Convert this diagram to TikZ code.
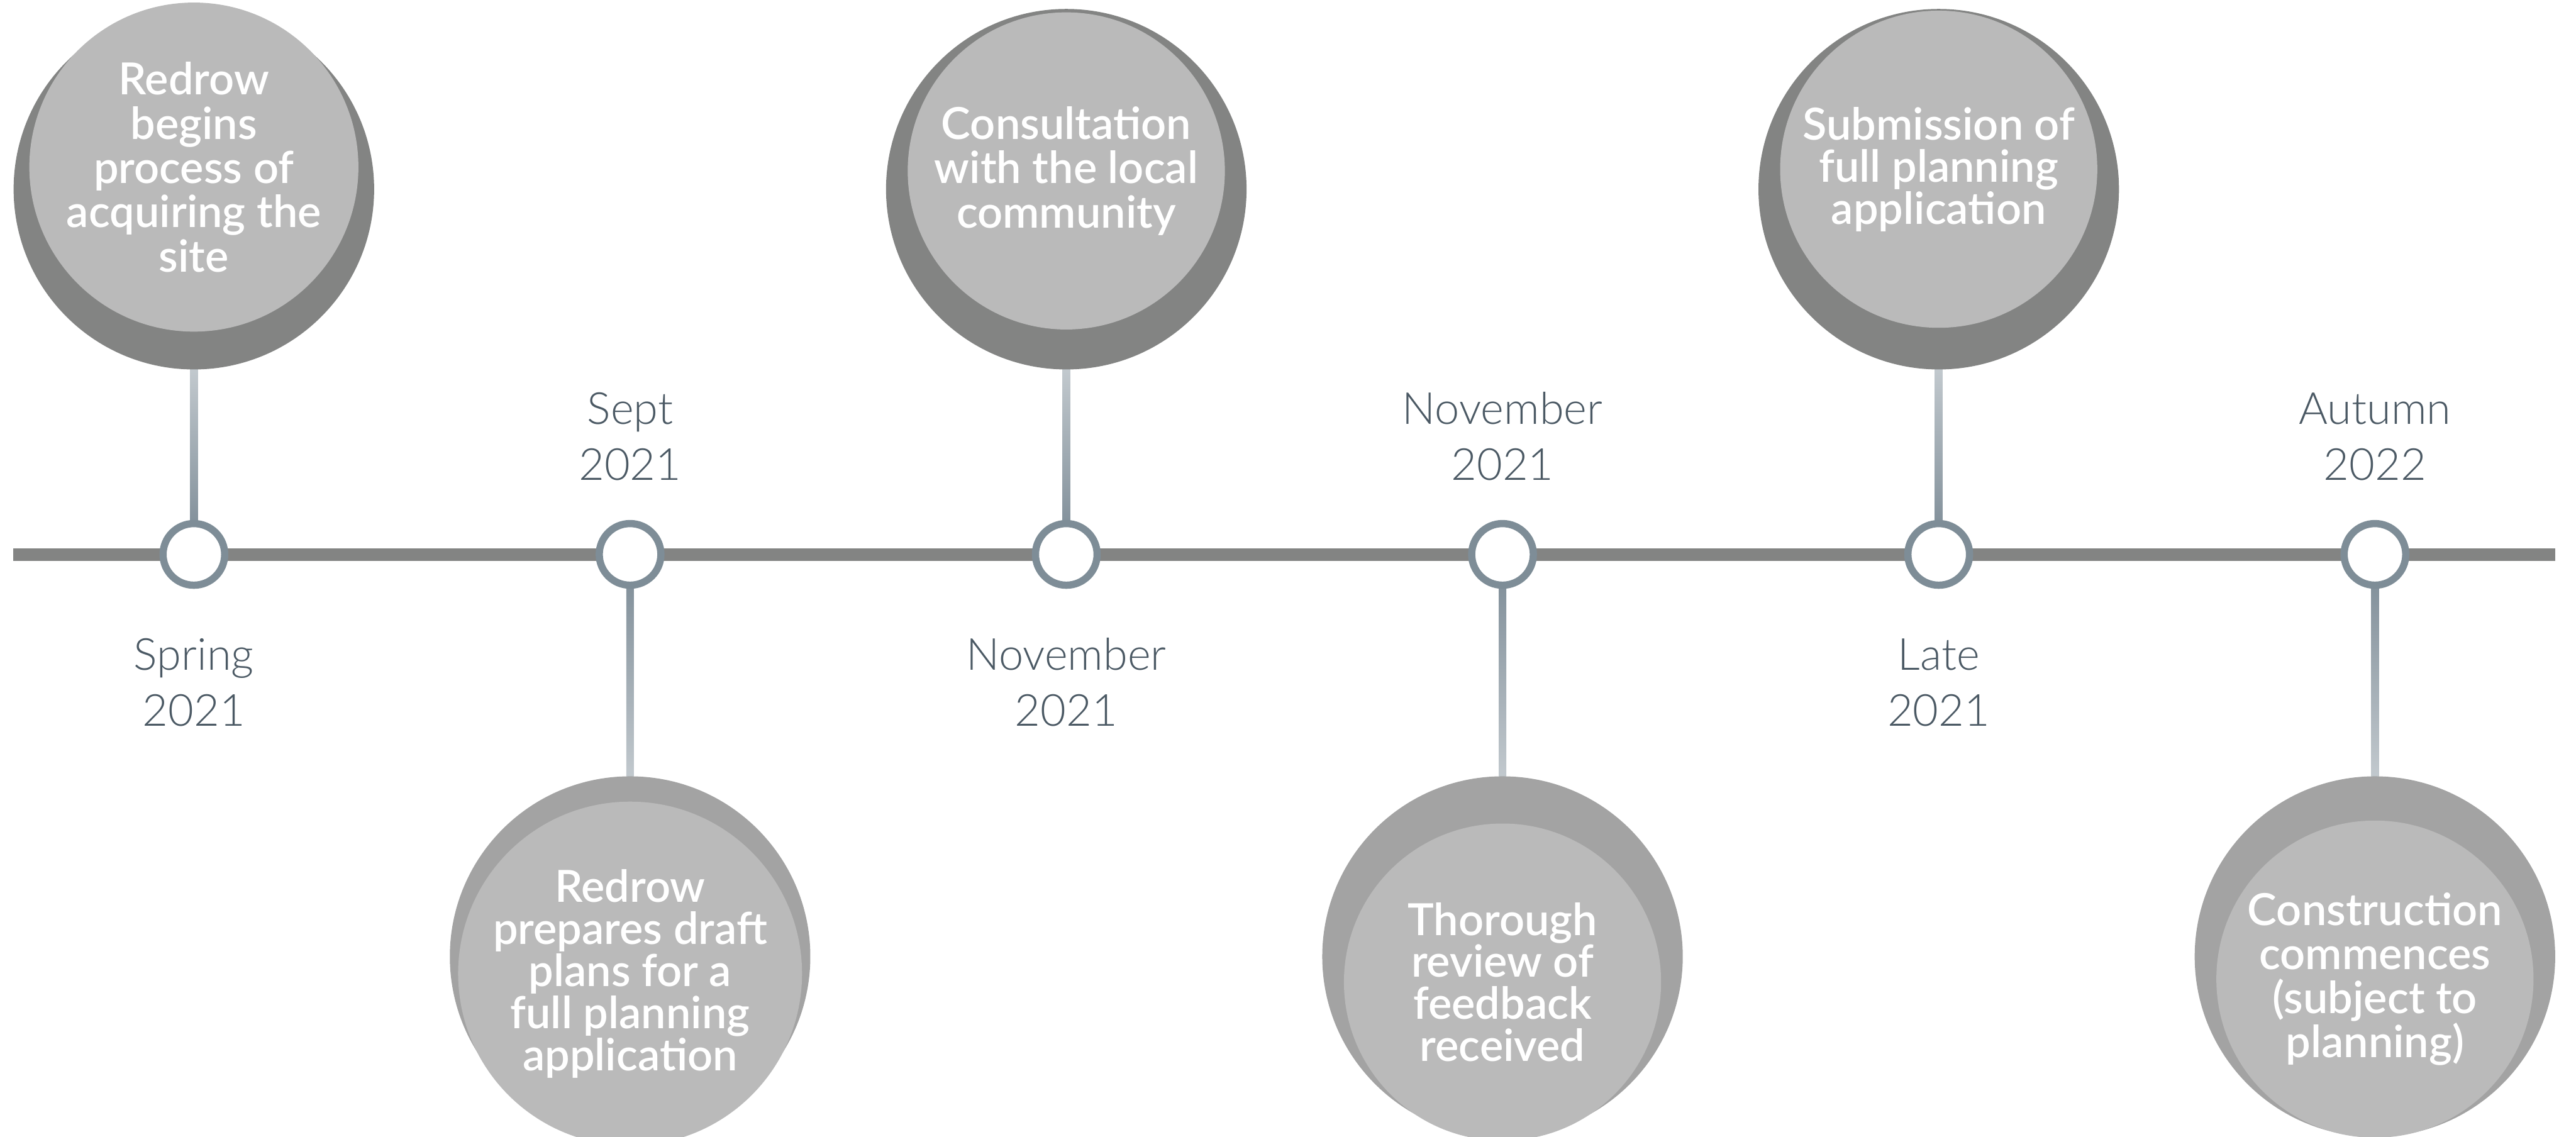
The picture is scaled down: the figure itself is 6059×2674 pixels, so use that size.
\documentclass[tikz,border=0pt]{standalone}
\usepackage{fontspec}
\setmainfont{Lato}
\newfontfamily\datefont{Lato Light}
\newfontfamily\stepfont{Lato Semibold}
\usetikzlibrary{calc,backgrounds}

\definecolor{discdark}{HTML}{838483}
\definecolor{disclight}{HTML}{A3A3A3}
\definecolor{discface}{HTML}{BABABA}
\definecolor{ring}{HTML}{7E8D97}
\definecolor{slate}{HTML}{4B5964}
\definecolor{stemlight}{HTML}{C2C9CE}
\definecolor{stemdark}{HTML}{84929C}

\begin{document}
\begin{tikzpicture}[x=0.1pt,y=-0.1pt,
  upperdisc/.style={circle, fill=discdark, minimum size=84.8pt, inner sep=0pt, outer sep=0pt},
  lowerdisc/.style={circle, fill=disclight, minimum size=84.8pt, inner sep=0pt, outer sep=0pt},
  face/.style={circle, fill=discface, minimum size=74.6pt, inner sep=0pt, text=white,
    align=center, font=\stepfont\fontsize{10.4pt}{10.4pt}\selectfont},
  tight/.style={font=\stepfont\fontsize{10.4pt}{9.9pt}\selectfont},
  marker/.style={circle, draw=ring, line width=1.7pt, fill=white, minimum size=14.5pt, inner sep=0pt},
  datelabel/.style={anchor=south, align=center, text=slate, inner sep=0pt,
    font=\datefont\fontsize{10.4pt}{13.2pt}\selectfont},
  axis/.style={line width=3pt, draw=discdark},
  upstem/.style={top color=stemlight, bottom color=stemdark},
  downstem/.style={top color=stemdark, bottom color=stemlight},
]
\useasboundingbox (0,0) rectangle (6059,2674);

% milestone markers on the timeline
\node[marker] (m0) at (456,1304) {};
\node[marker] (m1) at (1482,1304) {};
\node[marker] (m2) at (2508,1304) {};
\node[marker] (m3) at (3534,1304) {};
\node[marker] (m4) at (4560,1304) {};
\node[marker] (m5) at (5586,1304) {};

% discs above the line
\node[upperdisc] (d0) at (456,445) {};
\node[face] (f0) at (456,393) {Redrow\\begins\\process of\\acquiring the\\site};
\node[upperdisc] (d2) at (2508,445) {};
\node[face] (f2) at (2508,402) {Consultation\\with the local\\community};
\node[upperdisc] (d4) at (4560,445) {};
\node[face, tight] (f4) at (4560,398) {Submission of\\full planning\\application};

% discs below the line
\node[lowerdisc] (d1) at (1482,2250) {};
\node[face, tight] (f1) at (1482,2290) {Redrow\\prepares draft\\plans for a\\full planning\\application};
\node[lowerdisc] (d3) at (3534,2250) {};
\node[face, tight] (f3) at (3534,2310) {Thorough\\review of\\feedback\\received};
\node[lowerdisc] (d5) at (5586,2250) {};
\node[face] (f5) at (5586,2303) {Construction\\commences\\(subject to\\planning)};

% dates
\node[datelabel] (t0) at (456,1711) {Spring\\2021};
\node[datelabel] (t1) at (1482,1132) {Sept\\2021};
\node[datelabel] (t2) at (2508,1711) {November\\2021};
\node[datelabel] (t3) at (3534,1132) {November\\2021};
\node[datelabel] (t4) at (4560,1711) {Late\\2021};
\node[datelabel] (t5) at (5586,1132) {Autumn\\2022};

\coordinate (start) at (31,1305);
\coordinate (end) at (6010,1305);

\begin{scope}[on background layer]
  \draw[axis] (start) -- (end);
  % stems joining discs and markers
  \path[upstem] ($(d0.south)+(-9,-3)$) rectangle ($(m0.north)+(9,3)$);
  \path[upstem] ($(d2.south)+(-9,-3)$) rectangle ($(m2.north)+(9,3)$);
  \path[upstem] ($(d4.south)+(-9,-3)$) rectangle ($(m4.north)+(9,3)$);
  \path[downstem] ($(m1.south)+(-9,-3)$) rectangle ($(d1.north)+(9,3)$);
  \path[downstem] ($(m3.south)+(-9,-3)$) rectangle ($(d3.north)+(9,3)$);
  \path[downstem] ($(m5.south)+(-9,-3)$) rectangle ($(d5.north)+(9,3)$);
\end{scope}
\end{tikzpicture}
\end{document}
